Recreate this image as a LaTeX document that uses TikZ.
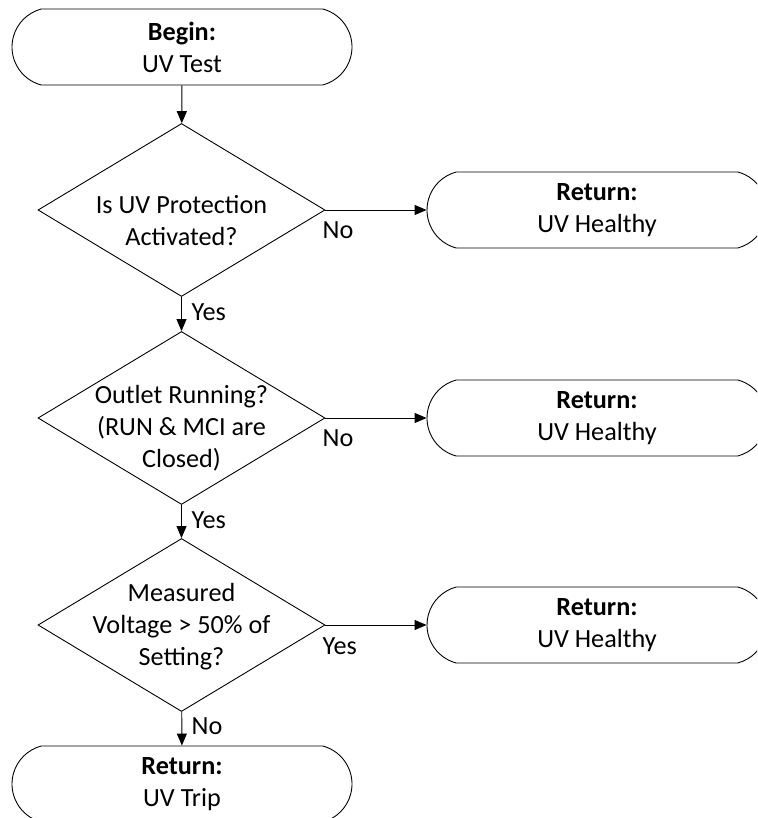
\documentclass[tikz,border=0pt]{standalone}
\usepackage{fontspec}
\setmainfont{Carlito}
\usetikzlibrary{shapes.geometric,shapes.misc,arrows.meta}
\begin{document}
\begin{tikzpicture}[x=1pt,y=-1pt,
  every node/.style={font=\fontsize{26.2}{32}\selectfont},
  term/.style={draw,line width=0.9pt,rounded rectangle,rounded rectangle arc length=150,
    minimum width=340pt,minimum height=76pt,align=center,inner sep=0pt},
  decision/.style={draw,line width=0.9pt,diamond,aspect=1.66,minimum width=287pt,
    minimum height=173pt,inner sep=0pt},
  dtext/.style={align=center,inner sep=0pt},
  flow/.style={line width=0.9pt,-{Triangle[length=12pt,width=10pt]}},
  lbl/.style={inner sep=1pt,anchor=north west}]
\clip (0,0) rectangle (757,818);

% main column
\node[term] (begin) at (182,47) {\textbf{Begin:}\\UV Test};
\node[decision] (d1) at (181.5,210) {};
\node[decision] (d2) at (181.5,418) {};
\node[decision] (d3) at (181.5,625) {};
\node[term] (trip) at (182,784) {\textbf{Return:}\\UV Trip};

% decision texts
\node[dtext] (t1) at ([yshift=-11pt]d1.center) {Is UV Protection\\Activated?};
\node[dtext] (t2) at ([yshift=-10pt]d2.center) {Outlet Running?\\(RUN \& MCI are\\Closed)};
\node[dtext] (t3) at ([yshift=-2pt]d3.center) {Measured\\Voltage > 50\% of\\Setting?};

% side exits
\node[term] (h1) at (597,210) {\textbf{Return:}\\UV Healthy};
\node[term] (h2) at (597,418) {\textbf{Return:}\\UV Healthy};
\node[term] (h3) at (597,625) {\textbf{Return:}\\UV Healthy};

% connectors
\draw[flow] (begin) -- (d1);
\draw[flow] (d1) -- (d2);
\draw[flow] (d2) -- (d3);
\draw[flow] (d3) -- (trip);
\draw[flow] (d1.east) -- (h1);
\draw[flow] (d2.east) -- (h2);
\draw[flow] (d3.east) -- (h3);

% branch labels
\node[lbl] (n1) at ([xshift=-4pt,yshift=-10pt]d1.east) {No};
\node[lbl] (n2) at ([xshift=-4pt,yshift=-10pt]d2.east) {No};
\node[lbl] (y3) at ([xshift=-4pt,yshift=-11pt]d3.east) {Yes};
\node[lbl] (y1) at ([xshift=9pt,yshift=-6pt]d1.south) {Yes};
\node[lbl] (y2) at ([xshift=9pt,yshift=-6pt]d2.south) {Yes};
\node[lbl] (n3) at ([xshift=9pt,yshift=-5pt]d3.south) {No};
\end{tikzpicture}
\end{document}
